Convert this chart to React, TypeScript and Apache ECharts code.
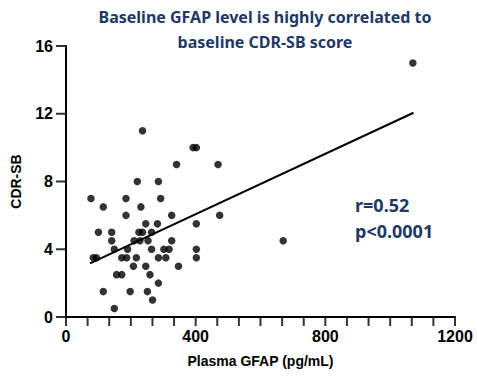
import React, { useEffect, useRef } from "react";
import * as echarts from "echarts";

const titleLines = ["Baseline GFAP level is highly correlated to", "baseline CDR-SB score"];
const statLines = ["r=0.52", "p<0.0001"];
const xTicks = [0, 400, 800, 1200];
const yTicks = [0, 4, 8, 12, 16];
const xMinorPerMajor = 6;
const xName = "Plasma GFAP (pg/mL)";
const yName = "CDR-SB";

// [Plasma GFAP, CDR-SB]
const gfap = [
  236, 392, 402, 341, 469, 220, 285, 77, 115, 185, 292, 231, 185, 326, 474,
  246, 282, 402, 100, 141, 225, 236, 264, 141, 210, 228, 253, 326,
  149, 190, 264, 302, 318, 402, 84, 94, 172, 187, 217, 285, 308, 402,
  208, 246, 347, 156, 172, 259, 285, 115, 198, 251, 267, 149, 670, 1070,
];
const cdrsb = [
  11, 10, 10, 9, 9, 8, 8, 7, 6.5, 7, 7, 6.5, 6, 6, 6,
  5.5, 5.5, 5.5, 5, 5, 5, 5, 5, 4.5, 4.5, 4.5, 4.5, 4.5,
  4, 4, 4, 4, 4, 4, 3.5, 3.5, 3.5, 3.5, 3.5, 3.5, 3.5, 3.5,
  3, 3, 3, 2.5, 2.5, 2.5, 2, 1.5, 1.5, 1.5, 1, 0.5, 4.5, 15,
];
const fitX = [74, 1072];
const fitY = [3.17, 12.06];

const navy = "#1f3864";
const axisFont = "Liberation Sans, Arial, sans-serif";

export default function App() {
  const ref = useRef<HTMLDivElement>(null);
  useEffect(() => {
    if (!ref.current) return;
    const chart = echarts.init(ref.current, null, { renderer: "svg" });
    const points = gfap.map((g, i) => [g, cdrsb[i]]);
    const fit = fitX.map((x, i) => [x, fitY[i]]);
    const xMin = xTicks[0];
    const xMax = xTicks[xTicks.length - 1];
    const xStep = (xTicks[1] - xTicks[0]) / xMinorPerMajor;
    const xTickVals: number[][] = [];
    for (let k = 0; xMin + k * xStep <= xMax + 1e-6; k++) xTickVals.push([xMin + k * xStep, yTicks[0]]);
    const yTickVals = yTicks.map((v) => [xMin, v]);

    chart.setOption({
      animation: false,
      backgroundColor: "#ffffff",
      grid: { left: 66, right: 22, top: 46, bottom: 61, containLabel: false },
      graphic: [
        ...titleLines.map((t, i) => ({
          type: "text",
          x: 265,
          y: 17 + i * 25,
          style: {
            text: t,
            fill: navy,
            font: "bold 16px 'Noto Sans'",
            textAlign: "center",
            textVerticalAlign: "middle",
          },
        })),
        ...statLines.map((t, i) => ({
          type: "text",
          x: 355,
          y: 205 + i * 26,
          style: {
            text: t,
            fill: navy,
            font: "bold 18px 'Noto Sans'",
            textAlign: "left",
            textVerticalAlign: "middle",
          },
        })),
      ],
      xAxis: {
        type: "value",
        min: xMin,
        max: xMax,
        interval: 400,
        name: xName,
        nameLocation: "middle",
        nameGap: 37,
        nameTextStyle: { fontFamily: axisFont, fontWeight: "bold", fontSize: 14, color: "#000" },
        axisLine: { show: true, onZero: false, lineStyle: { color: "#000", width: 2 } },
        axisTick: { show: false },
        axisLabel: {
          show: true,
          formatter: (v: number) => String(v),
          fontFamily: axisFont,
          fontWeight: "bold",
          fontSize: 16,
          color: "#000",
          margin: 11,
        },
        splitLine: { show: false },
      },
      yAxis: {
        type: "value",
        min: yTicks[0],
        max: yTicks[yTicks.length - 1],
        interval: 4,
        name: yName,
        nameLocation: "middle",
        nameGap: 43,
        nameRotate: 90,
        nameTextStyle: { fontFamily: axisFont, fontWeight: "bold", fontSize: 14, color: "#000" },
        axisLine: { show: true, onZero: false, lineStyle: { color: "#000", width: 2 } },
        axisTick: { show: false },
        axisLabel: {
          show: true,
          fontFamily: axisFont,
          fontWeight: "bold",
          fontSize: 16,
          color: "#000",
          margin: 13,
        },
        splitLine: { show: false },
      },
      series: [
        {
          type: "scatter",
          data: points,
          symbol: "circle",
          symbolSize: 7.5,
          itemStyle: { color: "#000" },
          z: 3,
        },
        {
          type: "line",
          data: fit,
          symbol: "none",
          lineStyle: { color: "#000", width: 2 },
          z: 2,
        },
        {
          type: "scatter",
          data: xTickVals,
          clip: false,
          silent: true,
          symbol: "rect",
          symbolSize: [2, 9],
          symbolOffset: [0, 4.5],
          itemStyle: { color: "#000" },
          z: 1,
        },
        {
          type: "scatter",
          data: yTickVals,
          clip: false,
          silent: true,
          symbol: "rect",
          symbolSize: [10, 2],
          symbolOffset: [-5, 0],
          itemStyle: { color: "#000" },
          z: 1,
        },
      ],
    });

    return () => chart.dispose();
  }, []);
  return <div ref={ref} style={{ width: 477, height: 378, position: "absolute", left: 0, top: 0 }} />;
}
